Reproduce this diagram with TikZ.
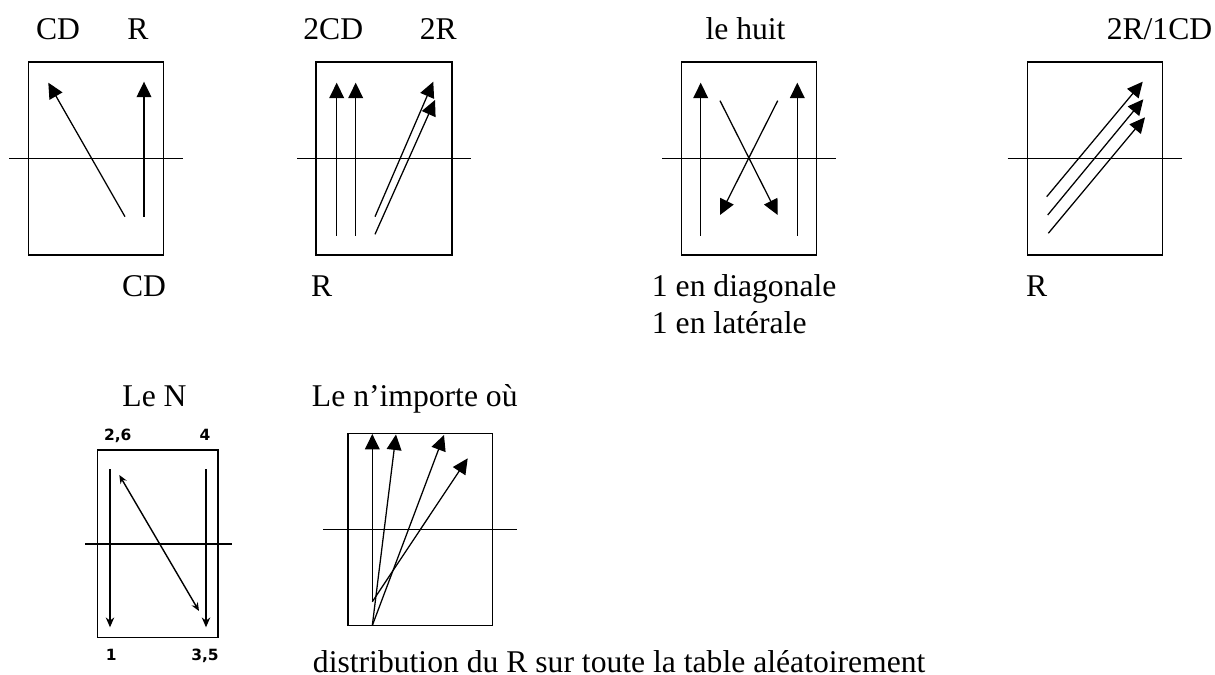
\documentclass[tikz,border=0pt]{standalone}
\usepackage{fontspec}
\setmainfont{Liberation Serif}
\newfontfamily\numfont{DejaVu Sans}
\usetikzlibrary{arrows.meta}

\tikzset{
    table/.style={draw, line width=1.1pt},
    net/.style={line width=1pt},
    shot/.style={line width=0.9pt, -{Triangle[length=11pt, width=10.5pt]}},
    pass/.style={line width=1.5pt, -{Stealth[length=7pt, width=6pt]}},
    swap/.style={line width=1pt, {Stealth[length=6pt, width=5pt]}-{Stealth[length=6pt, width=5pt]}},
    lbl/.style={font=\fontsize{22.5}{27}\selectfont, anchor=base, inner sep=0pt},
    num/.style={font=\numfont\bfseries\fontsize{11}{13}\selectfont, anchor=base, inner sep=0pt}
}

\begin{document}
\begin{tikzpicture}[x=0.025cm, y=-0.025cm]
    \useasboundingbox (0,0) rectangle (1215,675);

    % CD / R
    \draw[table] (28.7,62) rectangle (163.3,255);
    \draw[net] (9.3,158.3) -- (182.7,158.3);
    \draw[shot] (125,216.7) -- (48.3,82.7);
    \draw[shot] (144,216.7) -- (144,81.7);
    \node[lbl] (cdTop) at (58,39.3) {CD};
    \node[lbl] (rTop) at (138,39.3) {R};
    \node[lbl] (cdBottom) at (144,296.5) {CD};

    % 2CD / 2R
    \draw[table] (316,62) rectangle (452,255);
    \draw[net] (297.3,158.3) -- (471,158.3);
    \draw[shot] (336.7,236) -- (336.7,82.7);
    \draw[shot] (355.7,236) -- (355.7,82.7);
    \draw[shot] (375,216.7) -- (433.3,81.7);
    \draw[shot] (375,234.3) -- (435,100);
    \node[lbl] (twoCdTop) at (333.3,39.3) {2CD};
    \node[lbl] (twoRTop) at (438.3,39.3) {2R};
    \node[lbl] (rBottom) at (321.7,296.5) {R};

    % le huit
    \draw[table] (681.7,62) rectangle (816.7,255);
    \draw[net] (662,158.3) -- (836,158.3);
    \draw[shot] (700.7,236) -- (700.7,82.7);
    \draw[shot] (797.3,236) -- (797.3,82.7);
    \draw[shot] (720,100.7) -- (777.7,215);
    \draw[shot] (777.7,100.7) -- (720,215);
    \node[lbl] (huitTop) at (745.5,39.3) {le huit};
    \node[lbl, anchor=base west] (diagBottom) at (651.7,296.5) {1 en diagonale};
    \node[lbl, anchor=base west] (latBottom) at (651.7,333.3) {1 en latérale};

    % 2R/1CD
    \draw[table] (1027.3,62) rectangle (1162.3,255);
    \draw[net] (1007.7,158.3) -- (1181.7,158.3);
    \draw[shot] (1046.7,196.7) -- (1142.7,81.7);
    \draw[shot] (1047.7,215) -- (1143.3,99.3);
    \draw[shot] (1048.3,233.3) -- (1145,117.3);
    \node[lbl] (mixTop) at (1159.5,39.3) {2R/1CD};
    \node[lbl] (mixBottom) at (1036.7,296.5) {R};

    % Le N
    \draw[table] (97.3,450) rectangle (218,637.3);
    \draw[net] (85,544) -- (231.7,544);
    \draw[pass] (110,469.3) -- (110,627.3);
    \draw[pass] (206,469.3) -- (206,627.3);
    \draw[swap] (119.3,475) -- (199,611);
    \node[lbl] (nTop) at (154.5,406.7) {Le N};
    \node[num] (numA) at (117.7,440.7) {2,6};
    \node[num] (numB) at (205,440.7) {4};
    \node[num] (numC) at (111.3,660) {1};
    \node[num] (numD) at (205,660) {3,5};

    % Le n'importe ou
    \draw[table] (348,433.3) rectangle (492.7,625.5);
    \draw[net] (323.3,529.2) -- (516.7,529.2);
    \draw[shot] (372.3,601.7) -- (372.3,434);
    \draw[shot] (372.3,625.5) -- (396,434.5);
    \draw[shot] (372.3,625.5) -- (444,435);
    \draw[shot] (372.3,601.7) -- (467.7,458.3);
    \node[lbl, anchor=base west] (anyTop) at (311.7,406.7) {Le n’importe où};
    \node[lbl, anchor=base west] (anyBottom) at (312.7,672) {distribution du R sur toute la table aléatoirement};
\end{tikzpicture}
\end{document}
